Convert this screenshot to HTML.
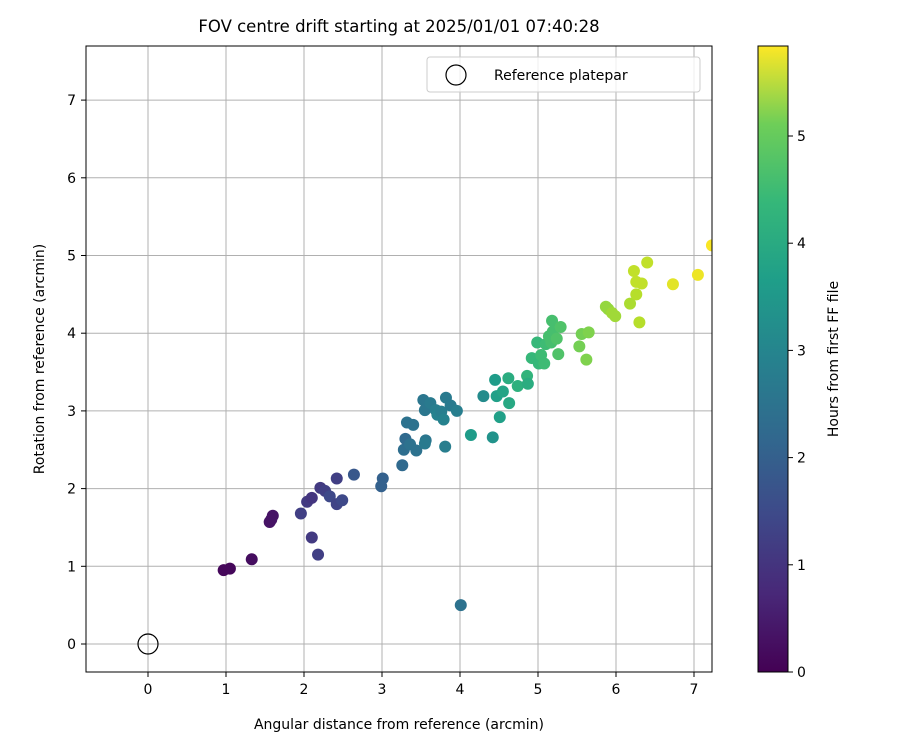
<!DOCTYPE html>
<html><head><meta charset="utf-8"><style>
body{margin:0;background:#fff}
svg text{font-family:"DejaVu Sans","Liberation Sans",sans-serif;fill:#000}
</style></head><body>
<svg id="chart" width="900" height="750" xmlns="http://www.w3.org/2000/svg">
<defs>
<linearGradient id="vir" x1="0" y1="1" x2="0" y2="0">
<stop offset="0" stop-color="#440154"/><stop offset="0.125" stop-color="#482878"/><stop offset="0.25" stop-color="#3e4989"/><stop offset="0.375" stop-color="#31688e"/><stop offset="0.5" stop-color="#26828e"/><stop offset="0.625" stop-color="#1f9e89"/><stop offset="0.75" stop-color="#35b779"/><stop offset="0.875" stop-color="#6ece58"/><stop offset="1" stop-color="#fde725"/>
</linearGradient>
<clipPath id="pc"><rect x="86" y="46" width="626" height="626"/></clipPath>
</defs>
<g id="grid"></g>
<g id="pts" clip-path="url(#pc)"></g>
<rect x="86" y="46" width="626" height="626" fill="none" stroke="#000" stroke-width="1"/>
<g id="ticks"></g>
<text x="399" y="32" font-size="16.5" text-anchor="middle">FOV centre drift starting at 2025/01/01 07:40:28</text>
<text x="399" y="729" font-size="14" text-anchor="middle">Angular distance from reference (arcmin)</text>
<text transform="translate(44,359) rotate(-90)" font-size="14" text-anchor="middle">Rotation from reference (arcmin)</text>
<g>
<rect x="427" y="57" width="273" height="35" rx="3" fill="#fff" fill-opacity="0.8" stroke="#ccc"/>
<circle cx="456" cy="75" r="10" fill="none" stroke="#000" stroke-width="1.2"/>
<text x="494" y="80" font-size="14">Reference platepar</text>
</g>
<rect x="758" y="46" width="30" height="626" fill="url(#vir)" stroke="#000" stroke-width="1"/>
<g id="cticks"></g>
<text transform="translate(838,359) rotate(-90)" font-size="14" text-anchor="middle">Hours from first FF file</text>
</svg>
<script>
const xs=[0.97,1.05,1.33,1.56,1.6,1.58,1.96,2.04,2.1,2.1,2.18,2.21,2.27,2.33,2.42,2.42,2.49,2.64,2.99,3.01,3.26,3.28,3.3,3.32,3.36,3.4,3.44,3.53,3.55,3.56,3.55,3.62,3.69,3.71,3.76,3.79,3.81,3.82,3.88,3.96,4.01,4.14,4.3,4.42,4.45,4.47,4.51,4.55,4.62,4.63,4.74,4.86,4.87,4.92,4.99,5.01,5.04,5.08,5.1,5.14,5.17,5.18,5.19,5.24,5.26,5.29,5.53,5.56,5.65,5.62,5.87,5.9,5.95,5.99,6.18,6.23,6.26,6.26,6.3,6.33,6.4,6.73,7.05,7.23];
const ys=[0.95,0.97,1.09,1.57,1.65,1.6,1.68,1.83,1.88,1.37,1.15,2.01,1.97,1.9,2.13,1.8,1.85,2.18,2.03,2.13,2.3,2.5,2.64,2.85,2.57,2.82,2.49,3.14,3.01,2.62,2.58,3.1,3.01,2.95,2.99,2.89,2.54,3.17,3.07,3.0,0.5,2.69,3.19,2.66,3.4,3.19,2.92,3.25,3.42,3.1,3.32,3.45,3.35,3.68,3.88,3.61,3.72,3.61,3.86,3.96,3.88,4.16,4.02,3.93,3.73,4.08,3.83,3.99,4.01,3.66,4.34,4.31,4.26,4.22,4.38,4.8,4.5,4.66,4.14,4.64,4.91,4.63,4.75,5.13];
const hours=[0.1,0.1,0.2,0.3,0.3,0.3,1.1,1.0,0.9,1.0,1.1,1.0,1.1,1.3,1.1,1.2,1.3,1.6,1.8,1.8,2.0,2.1,2.0,2.2,2.2,2.2,2.2,2.3,2.3,2.3,2.4,2.4,2.5,2.6,2.5,2.6,2.5,2.4,2.4,2.5,2.2,3.2,2.8,3.0,3.2,3.3,3.3,3.4,3.6,3.5,3.7,3.8,3.6,3.9,3.9,3.9,4.0,4.0,4.0,4.1,4.1,4.1,4.1,4.2,4.2,4.2,4.6,4.6,4.7,4.7,4.9,4.9,5.0,5.0,5.1,5.3,5.2,5.3,5.2,5.3,5.3,5.6,5.7,5.8];
const xTicks=[0,1,2,3,4,5,6,7];
const yTicks=[0,1,2,3,4,5,6,7];
const cTicks=[0,1,2,3,4,5];
const X=v=>148+v*78, Y=v=>644-v*77.7, C=v=>672-v*107.2, HMAX=5.84;
const stops=[[68,1,84],[72,40,120],[62,73,137],[49,104,142],[38,130,142],[31,158,137],[53,183,121],[110,206,88],[181,222,43],[253,231,37]];
function vir(t){t=Math.max(0,Math.min(1,t))*(stops.length-1);const i=Math.min(Math.floor(t),stops.length-2),f=t-i;const a=stops[i],b=stops[i+1];return `rgb(${a.map((c,k)=>Math.round(c+(b[k]-c)*f)).join(',')})`;}
const NS='http://www.w3.org/2000/svg';
function mk(tag,attrs,parent){const e=document.createElementNS(NS,tag);for(const k in attrs)e.setAttribute(k,attrs[k]);parent.appendChild(e);return e;}
const g=document.getElementById('grid'),tk=document.getElementById('ticks'),pts=document.getElementById('pts'),ct=document.getElementById('cticks');
xTicks.forEach(v=>{const x=X(v);
const l=mk('line',{x1:x,x2:x,y1:46,y2:672,stroke:'#b0b0b0','stroke-width':1},g);


mk('line',{x1:x,x2:x,y1:672,y2:677,stroke:'#000'},tk);
const t=mk('text',{x:x,y:694,'font-size':14,'text-anchor':'middle'},tk);t.textContent=v;

});
yTicks.forEach(v=>{const y=Y(v);
const l=mk('line',{x1:86,x2:712,y1:y,y2:y,stroke:'#b0b0b0','stroke-width':1},g);


mk('line',{x1:81,x2:86,y1:y,y2:y,stroke:'#000'},tk);
const t=mk('text',{x:76,y:y+5,'font-size':14,'text-anchor':'end'},tk);t.textContent=v;

});
cTicks.forEach(v=>{const y=C(v);
mk('line',{x1:788,x2:793,y1:y,y2:y,stroke:'#000'},ct);
const t=mk('text',{x:797,y:y+5,'font-size':14},ct);t.textContent=v;

});
xs.forEach((v,i)=>{const c=mk('circle',{cx:X(v),cy:Y(ys[i]),r:6,fill:vir(hours[i]/HMAX)},pts);

});
const r=mk('circle',{cx:X(0),cy:Y(0),r:10,fill:'none',stroke:'#000','stroke-width':1.2},pts);


</script>
</body></html>
